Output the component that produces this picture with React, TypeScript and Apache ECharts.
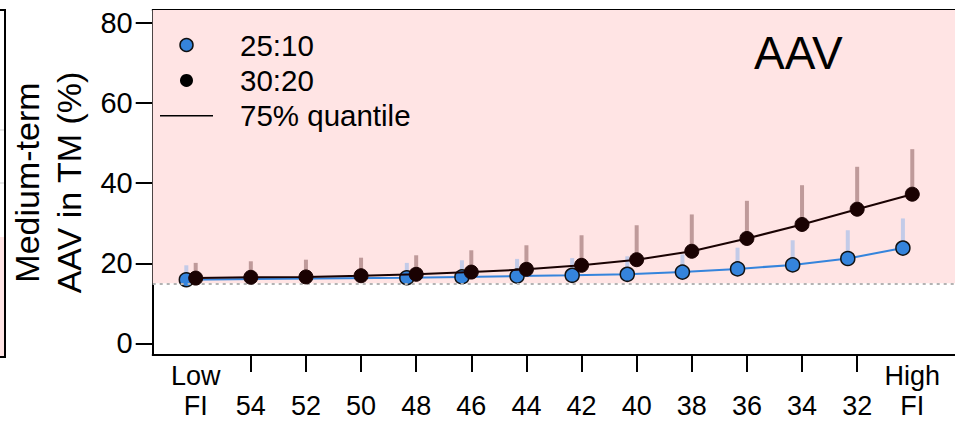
import React, { useEffect, useRef } from "react";
import * as echarts from "echarts";

// Fishing-intensity scenarios along the x axis
const fiLabels = ["Low\nFI", "54", "52", "50", "48", "46", "44", "42", "40", "38", "36", "34", "32", "High\nFI"];
const tickLabels = ["0", "20", "40", "60", "80"];

// Medians of medium-term AAV (%) per scenario; null where a scenario was not run
const aav2510 = [15.9, null, null, null, 16.4, 16.6, 16.8, 17.0, 17.25, 17.8, 18.6, 19.6, 21.2, 23.8];
const q75_2510 = [19.5, null, null, null, 20.1, 20.75, 21.1, 21.3, 21.75, 22.25, 23.9, 25.75, 28.25, 31.2];
const aav3020 = [16.3, 16.5, 16.6, 16.9, 17.25, 17.8, 18.5, 19.5, 20.9, 23.0, 26.2, 29.7, 33.5, 37.25];
const q75_3020 = [20.1, 20.5, 20.9, 21.4, 22.0, 23.25, 24.5, 27.0, 29.5, 32.2, 35.6, 39.5, 44.1, 48.5];

// Reference level below which variability is considered acceptable
const threshold = [15];

const FONT = "'Liberation Sans', Arial, Helvetica, sans-serif";
const BLUE = "#3584dc";
const DARK = "#1a0202";
const BLUE_BAR = "#c3cbe8";
const DARK_BAR = "#bf9a9a";
const PINK = "#ffe4e4";
const SHIFT_2510 = -0.17; // horizontal dodge of the 25:10 rule

const X_MIN = -0.78;
const X_MAX = 13.775;
const Y_MIN = -2.9;
const Y_MAX = 83.25;

function pairs(values: (number | null)[], q: (number | null)[], shift: number) {
  const pts: number[][] = [];
  const bars: number[][] = [];
  values.forEach((v, i) => {
    if (v == null) return;
    pts.push([i + shift, v]);
    const qq = q[i];
    if (qq != null) bars.push([i + shift, v, qq]);
  });
  return { pts, bars };
}

function errorBars(color: string) {
  return (_params: any, api: any) => {
    const a = api.coord([api.value(0), api.value(1)]);
    const b = api.coord([api.value(0), api.value(2)]);
    return {
      type: "line",
      shape: { x1: a[0], y1: a[1], x2: b[0], y2: b[1] },
      style: { stroke: color, lineWidth: 4, lineCap: "butt" },
    };
  };
}

export default function App() {
  const ref = useRef<HTMLDivElement>(null);

  useEffect(() => {
    if (!ref.current) return;
    const chart = echarts.init(ref.current, null, { renderer: "svg" });
    const s1 = pairs(aav2510, q75_2510, SHIFT_2510);
    const s2 = pairs(aav3020, q75_3020, 0);

    const option: any = {
      animation: false,
      backgroundColor: "#ffffff",
      textStyle: { fontFamily: FONT },
      grid: {
        left: 152.7,
        right: 0,
        top: 10,
        bottom: 67,
        containLabel: false,
        outerBoundsMode: "none",
      },
      legend: {
        left: 160,
        top: 27.3,
        orient: "vertical",
        padding: 0,
        itemGap: 0,
        itemWidth: 53,
        itemHeight: 13,
        selectedMode: false,
        textStyle: {
          fontFamily: FONT,
          fontSize: 29.5,
          color: "#000",
          lineHeight: 35.4,
          padding: [0, 0, 0, 22],
        },
        data: [
          {
            name: "25:10",
            icon: "circle",
            itemStyle: { color: BLUE, borderColor: "#111", borderWidth: 1.5 },
          },
          { name: "30:20", icon: "circle", itemStyle: { color: "#000", borderWidth: 0 } },
          {
            name: "75% quantile",
            icon: "path://M0,0 L53,0 L53,1.6 L0,1.6 Z",
            itemStyle: { color: "#000", borderWidth: 0 },
          },
        ],
      },
      xAxis: [
        {
          type: "value",
          min: X_MIN,
          max: X_MAX,
          position: "bottom",
          splitLine: { show: false },
          axisLine: { show: true, onZero: false, lineStyle: { color: "#000", width: 2 } },
          axisTick: {
            show: true,
            length: 17,
            customValues: fiLabels.map((_, i) => i).filter((i) => i > 0 && i < fiLabels.length - 1),
            lineStyle: { color: "#000", width: 2 },
          },
          axisLabel: {
            show: true,
            customValues: fiLabels.map((_, i) => i),
            margin: 6,
            fontFamily: FONT,
            fontSize: 27,
            lineHeight: 30,
            color: "#000",
            formatter: (v: number) => {
              const s = fiLabels[Math.round(v)] ?? "";
              return s.includes("\n") ? s : "\n" + s;
            },
          },
        },
        {
          type: "value",
          min: X_MIN,
          max: X_MAX,
          position: "top",
          splitLine: { show: false },
          axisLine: { show: true, onZero: false, lineStyle: { color: "#000", width: 2 } },
          axisTick: { show: false },
          axisLabel: { show: false },
        },
      ],
      yAxis: {
        type: "value",
        min: Y_MIN,
        max: Y_MAX,
        splitLine: { show: false },
        axisLine: { show: true, onZero: false, lineStyle: { color: "#000", width: 2 } },
        axisTick: {
          show: true,
          length: 17,
          customValues: tickLabels.map(Number),
          lineStyle: { color: "#000", width: 2 },
        },
        axisLabel: {
          show: true,
          customValues: tickLabels.map(Number),
          margin: 20,
          fontFamily: FONT,
          fontSize: 29,
          color: "#000",
        },
        name: "Medium-term\nAAV in TM (%)",
        nameLocation: "middle",
        nameRotate: 90,
        nameGap: 62,
        nameTextStyle: { fontFamily: FONT, fontSize: 34, lineHeight: 42, color: "#000" },
      },
      series: [
        {
          name: "75% quantile",
          type: "custom",
          renderItem: errorBars(BLUE_BAR),
          data: s1.bars,
          encode: { x: 0, y: [1, 2] },
          silent: true,
          z: 2,
          markArea: {
            silent: true,
            itemStyle: { color: PINK },
            data: [[{ yAxis: threshold[0] }, { yAxis: Y_MAX }]],
          },
          markLine: {
            silent: true,
            symbol: "none",
            label: { show: false },
            lineStyle: { color: "#b3b3b3", width: 2, type: [3, 4] },
            data: [{ yAxis: threshold[0] }],
          },
        },
        {
          name: "25:10",
          type: "line",
          data: s1.pts,
          symbol: "circle",
          symbolSize: 14,
          itemStyle: { color: BLUE, borderColor: "#111", borderWidth: 1.5 },
          lineStyle: { color: BLUE, width: 2 },
          z: 3,
        },
        {
          name: "75% quantile",
          type: "custom",
          renderItem: errorBars(DARK_BAR),
          data: s2.bars,
          encode: { x: 0, y: [1, 2] },
          silent: true,
          z: 4,
        },
        {
          name: "30:20",
          type: "line",
          data: s2.pts,
          symbol: "circle",
          symbolSize: 14,
          itemStyle: { color: DARK, borderColor: DARK, borderWidth: 1 },
          lineStyle: { color: DARK, width: 2 },
          z: 5,
        },
      ],
      graphic: [
        {
          type: "text",
          x: 754,
          y: 53,
          style: {
            text: "AAV",
            fontFamily: FONT,
            fontSize: 46,
            fill: "#000",
            verticalAlign: "middle",
          },
          z: 10,
        },
        // edge of the neighbouring panel on the left
        { type: "rect", shape: { x: 0, y: 237, width: 5, height: 120 }, style: { fill: PINK }, silent: true },
        { type: "line", shape: { x1: 0, y1: 130, x2: 5, y2: 130 }, style: { stroke: "#cfcfcf", lineWidth: 1 }, silent: true },
        { type: "line", shape: { x1: 0, y1: 183, x2: 5, y2: 183 }, style: { stroke: "#cfcfcf", lineWidth: 1 }, silent: true },
        { type: "line", shape: { x1: 5, y1: 10, x2: 5, y2: 357 }, style: { stroke: "#000", lineWidth: 2 }, silent: true },
        { type: "line", shape: { x1: 0, y1: 10, x2: 6, y2: 10 }, style: { stroke: "#000", lineWidth: 2 }, silent: true },
        { type: "line", shape: { x1: 0, y1: 357, x2: 6, y2: 357 }, style: { stroke: "#000", lineWidth: 2 }, silent: true },
      ],
    };

    chart.setOption(option);
    return () => chart.dispose();
  }, []);

  return (
    <div
      ref={ref}
      style={{ position: "absolute", left: 0, top: 0, width: 955, height: 422, background: "#fff" }}
    />
  );
}
